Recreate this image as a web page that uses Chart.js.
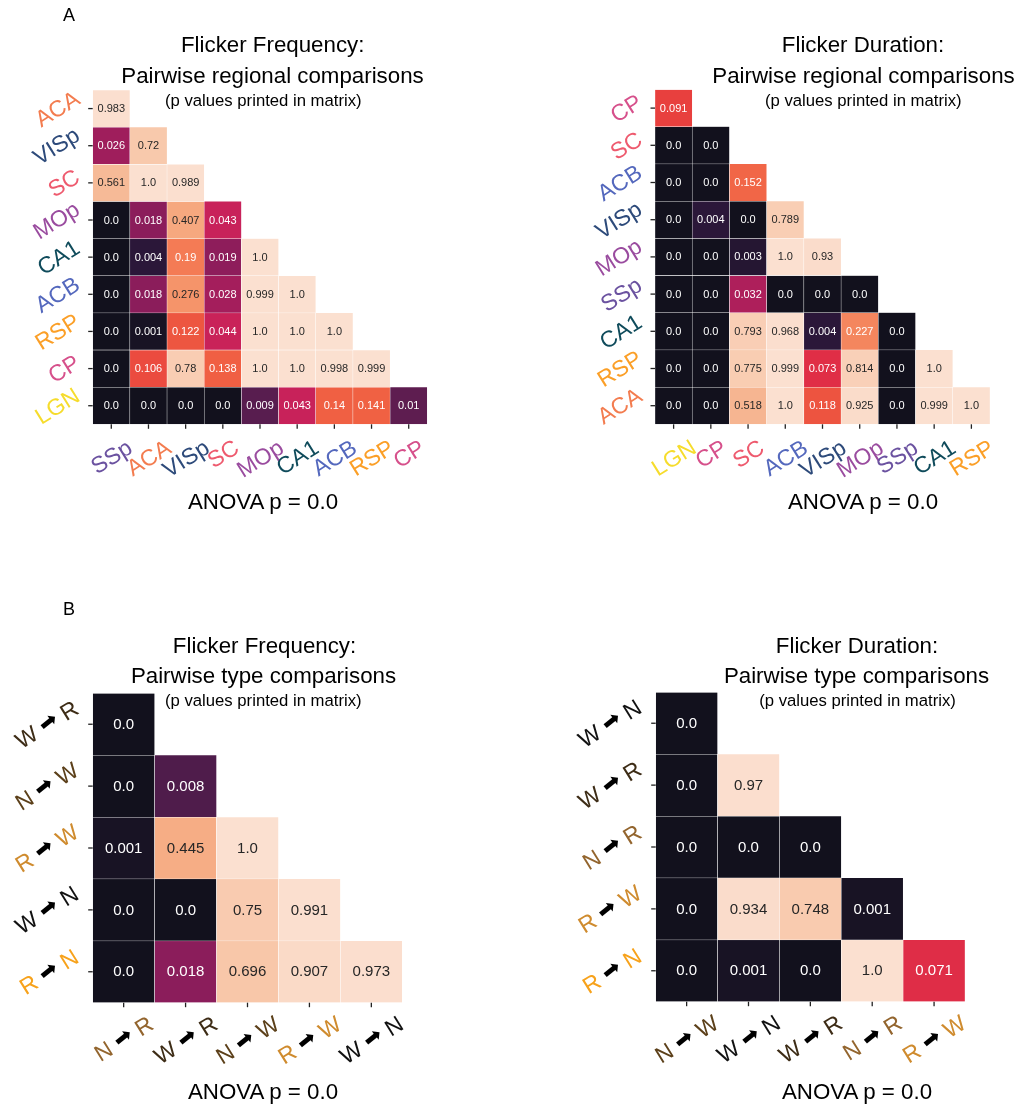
<!DOCTYPE html>
<html>
<head>
<meta charset="utf-8">
<script src="https://cdn.jsdelivr.net/npm/chart.js"></script>
<style>
  body { margin: 0; background: #fff; }
  #fig { position: relative; width: 1016px; height: 1105px; overflow: hidden;
         font-family: 'Liberation Sans', Arial, sans-serif; color: #000; }
  #fig canvas { position: absolute; }
  .txt { position: absolute; white-space: nowrap; }
</style>
</head>
<body>
<div id="fig">
  <canvas id="freqRegion" width="508" height="530" style="left:0;top:0"></canvas>
  <canvas id="durRegion" width="508" height="530" style="left:508px;top:0"></canvas>
  <canvas id="freqType" width="508" height="545" style="left:0;top:560px"></canvas>
  <canvas id="durType" width="508" height="545" style="left:508px;top:560px"></canvas>
</div>
<script>
// ---- data (p values, lower triangle, row by row) ----
const freqRegionRows = ['ACA', 'VISp', 'SC', 'MOp', 'CA1', 'ACB', 'RSP', 'CP', 'LGN'];
const freqRegionCols = ['SSp', 'ACA', 'VISp', 'SC', 'MOp', 'CA1', 'ACB', 'RSP', 'CP'];
const freqRegionP = [
  [0.983],
  [0.026, 0.72],
  [0.561, 1.0, 0.989],
  [0.0, 0.018, 0.407, 0.043],
  [0.0, 0.004, 0.19, 0.019, 1.0],
  [0.0, 0.018, 0.276, 0.028, 0.999, 1.0],
  [0.0, 0.001, 0.122, 0.044, 1.0, 1.0, 1.0],
  [0.0, 0.106, 0.78, 0.138, 1.0, 1.0, 0.998, 0.999],
  [0.0, 0.0, 0.0, 0.0, 0.009, 0.043, 0.14, 0.141, 0.01]
];

const durRegionRows = ['CP', 'SC', 'ACB', 'VISp', 'MOp', 'SSp', 'CA1', 'RSP', 'ACA'];
const durRegionCols = ['LGN', 'CP', 'SC', 'ACB', 'VISp', 'MOp', 'SSp', 'CA1', 'RSP'];
const durRegionP = [
  [0.091],
  [0.0, 0.0],
  [0.0, 0.0, 0.152],
  [0.0, 0.004, 0.0, 0.789],
  [0.0, 0.0, 0.003, 1.0, 0.93],
  [0.0, 0.0, 0.032, 0.0, 0.0, 0.0],
  [0.0, 0.0, 0.793, 0.968, 0.004, 0.227, 0.0],
  [0.0, 0.0, 0.775, 0.999, 0.073, 0.814, 0.0, 1.0],
  [0.0, 0.0, 0.518, 1.0, 0.118, 0.925, 0.0, 0.999, 1.0]
];

const freqTypeRows = ['W→R', 'N→W', 'R→W', 'W→N', 'R→N'];
const freqTypeCols = ['N→R', 'W→R', 'N→W', 'R→W', 'W→N'];
const freqTypeP = [
  [0.0],
  [0.0, 0.008],
  [0.001, 0.445, 1.0],
  [0.0, 0.0, 0.75, 0.991],
  [0.0, 0.018, 0.696, 0.907, 0.973]
];

const durTypeRows = ['W→N', 'W→R', 'N→R', 'R→W', 'R→N'];
const durTypeCols = ['N→W', 'W→N', 'W→R', 'N→R', 'R→W'];
const durTypeP = [
  [0.0],
  [0.0, 0.97],
  [0.0, 0.0, 0.0],
  [0.0, 0.934, 0.748, 0.001],
  [0.0, 0.001, 0.0, 1.0, 0.071]
];

// ---- styles ----
const regionColors = {
  ACA: '#f37c4f', VISp: '#2d4a7a', SC: '#ee5a6e', MOp: '#9a4c9f', CA1: '#0f4b5b',
  ACB: '#5468bd', RSP: '#fb9f27', CP: '#d6508b', LGN: '#f6dc2c', SSp: '#6b52a0'
};
const typeColors = {
  'W→R': '#3d2c16', 'N→W': '#5c401a', 'R→W': '#cf8b2e',
  'W→N': '#111111', 'R→N': '#f7a21b', 'N→R': '#93652e'
};
const colorStops = [
  [0, '#12111d'], [0.004, '#2b1739'], [0.009, '#581d4f'], [0.018, '#8b1d5b'],
  [0.027, '#a21e5c'], [0.043, '#c8225a'], [0.072, '#e02d46'], [0.091, '#e8403e'],
  [0.12, '#ed5540'], [0.14, '#f06043'], [0.19, '#f47b55'], [0.276, '#f5946a'],
  [0.42, '#f6aa81'], [0.54, '#f6b894'], [0.7, '#f8c7aa'], [0.78, '#f9cdb3'],
  [0.93, '#fadccb'], [1, '#fbe0d0']
];

const FONT = "'Liberation Sans', Arial, sans-serif";
const ROT = 32 * Math.PI / 180;

function hexRgb(h) {
  return [1, 3, 5].map(i => parseInt(h.substr(i, 2), 16));
}

function cellRgb(v) {
  for (let k = 1; k < colorStops.length; k++) {
    const [v1, c1] = colorStops[k];
    if (v <= v1) {
      const [v0, c0] = colorStops[k - 1];
      const t = (v - v0) / (v1 - v0);
      const a = hexRgb(c0), b = hexRgb(c1);
      return a.map((x, i) => Math.round(x + (b[i] - x) * t));
    }
  }
  return hexRgb(colorStops[colorStops.length - 1][1]);
}

function luminance(rgb) {
  const l = rgb.map(c => {
    c /= 255;
    return c <= 0.03928 ? c / 12.92 : Math.pow((c + 0.055) / 1.055, 2.4);
  });
  return 0.2126 * l[0] + 0.7152 * l[1] + 0.0722 * l[2];
}

function fmt(v) {
  return Number.isInteger(v) ? v.toFixed(1) : String(v);
}

function regionSegs(name, size) {
  return [{ text: name, color: regionColors[name], font: size + 'px ' + FONT }];
}

function typeSegs(name, size) {
  const [a, b] = name.split('→');
  const c = typeColors[name];
  const f = size + 'px ' + FONT;
  return [
    { text: a + ' ', color: c, font: f },
    { text: '➡', color: '#000', font: (size - 1) + "px 'DejaVu Sans'", tilt: 7 },
    { text: ' ' + b, color: c, font: f }
  ];
}

// rotated tick label, matplotlib style (bbox aligned)
function drawLabel(ctx, segs, ax, ay, mode, size) {
  let W = 0;
  segs.forEach(s => { ctx.font = s.font; s.w = ctx.measureText(s.text).width; W += s.w; });
  const h = size * 1.15;
  const bw = W * Math.cos(ROT) + h * Math.sin(ROT);
  const bh = W * Math.sin(ROT) + h * Math.cos(ROT);
  const cx = mode === 'y' ? ax - bw / 2 : ax;
  const cy = mode === 'y' ? ay : ay + bh / 2;
  const base = size * 0.3465;
  ctx.save();
  ctx.translate(cx, cy);
  ctx.rotate(-ROT);
  ctx.textBaseline = 'alphabetic';
  let x = -W / 2;
  segs.forEach(s => {
    ctx.font = s.font;
    ctx.fillStyle = s.color;
    if (s.tilt) {
      const mx = x + s.w / 2, my = base - size * 0.34;
      ctx.save();
      ctx.translate(mx, my);
      ctx.rotate(-s.tilt * Math.PI / 180);
      ctx.textAlign = 'center';
      ctx.textBaseline = 'middle';
      ctx.fillText(s.text, 0, 0);
      ctx.restore();
    } else {
      ctx.textAlign = 'left';
      ctx.fillText(s.text, x, base);
    }
    x += s.w;
  });
  ctx.restore();
}

function heatmap(id, rows, cols, pvals, cfg) {
  const datasets = rows.map((r, i) => ({
    label: r,
    data: cols.map((c, j) => j < pvals[i].length ? [i, i + 1] : null),
    backgroundColor: ctx => {
      const v = pvals[i][ctx.dataIndex];
      return v === undefined ? 'rgba(0,0,0,0)' : 'rgb(' + cellRgb(v).join(',') + ')';
    },
    borderColor: '#ffffff',
    borderWidth: 0.5,
    borderSkipped: false,
    grouped: false,
    barPercentage: 1,
    categoryPercentage: 1
  }));

  const cellText = {
    id: 'cellText',
    afterDatasetsDraw(chart) {
      const ctx = chart.ctx;
      ctx.save();
      ctx.font = cfg.cellFont + 'px ' + FONT;
      ctx.textAlign = 'center';
      ctx.textBaseline = 'middle';
      chart.data.datasets.forEach((ds, i) => {
        chart.getDatasetMeta(i).data.forEach((el, j) => {
          const v = pvals[i][j];
          if (v === undefined) return;
          const { x, y, base } = el.getProps(['x', 'y', 'base'], true);
          ctx.fillStyle = luminance(cellRgb(v)) > 0.408 ? '#262626' : '#ffffff';
          ctx.fillText(fmt(v), x, (y + base) / 2 + 0.5);
        });
      });
      ctx.restore();
    }
  };

  const axisLabels = {
    id: 'axisLabels',
    afterDraw(chart) {
      const ctx = chart.ctx;
      const area = chart.chartArea;
      const xs = chart.scales.x, ys = chart.scales.y;
      const tl = 4.5;
      ctx.save();
      ctx.strokeStyle = '#222';
      ctx.lineWidth = 1.3;
      cols.forEach((c, j) => {
        const px = xs.getPixelForValue(j);
        ctx.beginPath();
        ctx.moveTo(px, area.bottom);
        ctx.lineTo(px, area.bottom + tl);
        ctx.stroke();
        drawLabel(ctx, cfg.segs(c, cfg.labelSize), px, area.bottom + tl + cfg.xPad, 'x', cfg.labelSize);
      });
      rows.forEach((r, i) => {
        const py = ys.getPixelForValue(i + 0.5);
        ctx.beginPath();
        ctx.moveTo(area.left - tl, py);
        ctx.lineTo(area.left, py);
        ctx.stroke();
        drawLabel(ctx, cfg.segs(r, cfg.labelSize), area.left - tl - cfg.yPad, py, 'y', cfg.labelSize);
      });
      ctx.restore();
    }
  };

  return new Chart(document.getElementById(id), {
    type: 'bar',
    data: { labels: cols, datasets },
    options: {
      responsive: false,
      animation: false,
      devicePixelRatio: 1,
      events: [],
      layout: { padding: cfg.padding },
      plugins: { legend: { display: false }, tooltip: { enabled: false } },
      scales: {
        x: { type: 'category', display: false, offset: true },
        y: { type: 'linear', display: false, min: 0, max: rows.length, reverse: true }
      }
    },
    plugins: [cellText, axisLabels]
  });
}

heatmap('freqRegion', freqRegionRows, freqRegionCols, freqRegionP, {
  padding: { left: 92.7, top: 90, right: 80.7, bottom: 105.7 },
  cellFont: 11, labelSize: 23, xPad: 5, yPad: 4, segs: regionSegs
});
heatmap('durRegion', durRegionRows, durRegionCols, durRegionP, {
  padding: { left: 147, top: 89.5, right: 26, bottom: 105.7 },
  cellFont: 11, labelSize: 23, xPad: 5, yPad: 4, segs: regionSegs
});
heatmap('freqType', freqTypeRows, freqTypeCols, freqTypeP, {
  padding: { left: 92.7, top: 133.3, right: 105.7, bottom: 102.3 },
  cellFont: 15, labelSize: 23, xPad: 3, yPad: 5, segs: typeSegs
});
heatmap('durType', durTypeRows, durTypeCols, durTypeP, {
  padding: { left: 147.7, top: 132.3, right: 51, bottom: 103.3 },
  cellFont: 15, labelSize: 23, xPad: 3, yPad: 5, segs: typeSegs
});

// ---- titles and annotations ----
const fig = document.getElementById('fig');
function placeText(txt, x, baseline, size, center) {
  const d = document.createElement('div');
  d.className = 'txt';
  d.textContent = txt;
  d.style.fontSize = size + 'px';
  d.style.lineHeight = size + 'px';
  d.style.left = x + 'px';
  d.style.top = (baseline - size * 0.8465) + 'px';
  if (center) d.style.transform = 'translateX(-50%)';
  fig.appendChild(d);
}

placeText('A', 63, 21, 18, false);
placeText('B', 63, 615, 18, false);

placeText('Flicker Frequency:', 272.7, 53, 22.3, true);
placeText('Pairwise regional comparisons', 272.5, 83.4, 22.3, true);
placeText('(p values printed in matrix)', 263.3, 106.7, 16.7, true);
placeText('ANOVA p = 0.0', 263, 510, 22.3, true);

placeText('Flicker Duration:', 863, 53, 22.3, true);
placeText('Pairwise regional comparisons', 863.5, 83.4, 22.3, true);
placeText('(p values printed in matrix)', 863.3, 106.7, 16.7, true);
placeText('ANOVA p = 0.0', 863, 510, 22.3, true);

placeText('Flicker Frequency:', 264.5, 653.4, 22.3, true);
placeText('Pairwise type comparisons', 263.5, 683.4, 22.3, true);
placeText('(p values printed in matrix)', 263.3, 707, 16.7, true);
placeText('ANOVA p = 0.0', 263, 1099.5, 22.3, true);

placeText('Flicker Duration:', 857, 653.4, 22.3, true);
placeText('Pairwise type comparisons', 856.5, 684, 22.3, true);
placeText('(p values printed in matrix)', 857.5, 707, 16.7, true);
placeText('ANOVA p = 0.0', 857, 1099.5, 22.3, true);
</script>
</body>
</html>
